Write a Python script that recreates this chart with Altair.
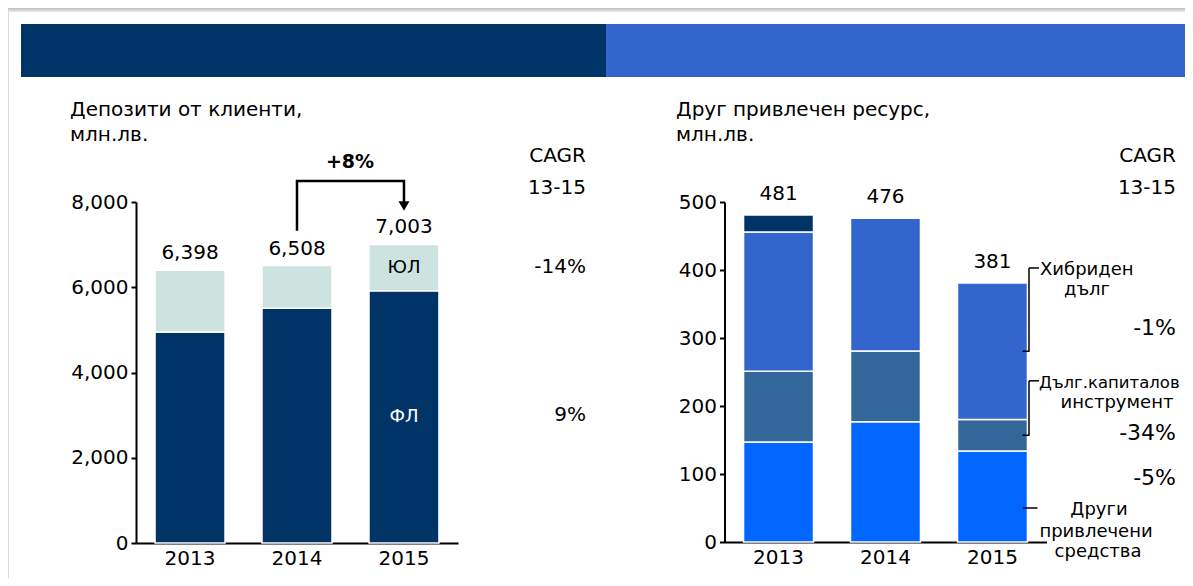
import altair as alt
import pandas as pd

FONT = "DejaVu Sans"
M = 8          # page margin: page pixel -> chart pixel
W, H = 1177, 570

# ---------------- data ----------------
years = ["2013", "2014", "2015"]

# Депозити от клиенти, млн.лв.
dep_fl = [4950, 5510, 5920]        # ФЛ
dep_yl = [1448, 998, 1083]         # ЮЛ
dep_total = [6398, 6508, 7003]
dep_ticks = [0, 2000, 4000, 6000, 8000]
dep_cagr = ["-14%", "9%"]
growth_label = "+8%"

# Друг привлечен ресурс, млн.лв.
res_other = [147, 177, 134]        # Други привлечени средства
res_debtcap = [104, 104, 46]       # Дълг.капиталов инструмент
res_hybrid = [205, 195, 201]       # Хибриден дълг
res_top = [25, 0, 0]               # top (dark) segment
res_total = [481, 476, 381]
res_ticks = [0, 100, 200, 300, 400, 500]
res_cagr = ["-1%", "-34%", "-5%"]

C_NAVY = "#003366"
C_BLUE = "#3366CC"
C_TEAL = "#336699"
C_BRIGHT = "#0066FF"
C_LIGHT = "#CDE3E0"

ONE = alt.Data(values=[{}])


def P(v):
    return v - M


def txt(s, x, y, size=20, align="left", weight="normal", color="black", line_h=None):
    kw = dict(text=s, align=align, baseline="alphabetic", fontSize=size, font=FONT,
              fontWeight=weight, color=color)
    if line_h is not None:
        kw["lineHeight"] = line_h
    return alt.Chart(ONE).mark_text(**kw).encode(x=alt.value(P(x)), y=alt.value(P(y)))


def rect(x1, x2, y1, y2, color):
    return alt.Chart(ONE).mark_rect(color=color).encode(
        x=alt.value(P(x1)), x2=alt.value(P(x2)), y=alt.value(P(y1)), y2=alt.value(P(y2)))


def x_enc(x0, x1, base_y):
    return alt.X("year:N", title=None,
                 scale=alt.Scale(type="band", domain=years, range=[P(x0), P(x1)],
                                 paddingInner=0.346, paddingOuter=0.178),
                 axis=alt.Axis(orient="bottom", offset=-(H - P(base_y)), ticks=False, tickSize=0,
                               labelPadding=5, labelFontSize=20, labelFont=FONT, labelColor="black",
                               domainColor="black", domainWidth=2, labelAngle=0, grid=False))


def y_enc(field, dom, base_y, top_y, axis_x, ticks, fmt, stack=False):
    kw = {}
    if stack:
        kw["stack"] = "zero"
    return alt.Y(f"{field}:Q", title=None,
                 scale=alt.Scale(domain=dom, range=[P(base_y), P(top_y)], nice=False, zero=True),
                 axis=alt.Axis(orient="left", offset=-P(axis_x), values=ticks, format=fmt,
                               tickSize=5, tickWidth=2, tickColor="black", domainColor="black",
                               domainWidth=2, labelPadding=3, labelFontSize=20, labelFont=FONT,
                               labelColor="black", grid=False),
                 **kw)


# ---------------- header ----------------
strip = alt.Chart(ONE).mark_rect(
    color=alt.Gradient(gradient="linear", x1=0, x2=0, y1=0, y2=1,
                       stops=[alt.GradientStop(color="#BDBDBD", offset=0),
                              alt.GradientStop(color="#EBEBEB", offset=1)])
).encode(x=alt.value(0), x2=alt.value(W), y=alt.value(0), y2=alt.value(4))

header = alt.layer(
    strip,
    rect(21, 606, 24, 77, C_NAVY),
    rect(606, 1193, 24, 77, C_BLUE),
    txt(["Депозити от клиенти,", "млн.лв."], 70, 116, line_h=25),
    txt(["Друг привлечен ресурс,", "млн.лв."], 676, 116, line_h=25),
    txt("CAGR", 586, 162, align="right"),
    txt("13-15", 586, 194, align="right"),
    txt(dep_cagr[0], 586, 273, align="right"),
    txt(dep_cagr[1], 586, 421, align="right"),
    txt("CAGR", 1176, 162, align="right"),
    txt("13-15", 1176, 194, align="right"),
    txt(res_cagr[0], 1176, 335, size=22, align="right"),
    txt(res_cagr[1], 1176, 440, size=22, align="right"),
    txt(res_cagr[2], 1176, 485, size=22, align="right"),
    txt("Хибриден", 1040, 275, size=18),
    txt("дълг", 1087, 295, size=18, align="center"),
    txt("Дълг.капиталов", 1039, 388, size=16.5),
    txt("инструмент", 1117, 408, size=18, align="center"),
    txt("Други", 1099, 515, size=18, align="center"),
    txt("привлечени", 1096, 537, size=18, align="center"),
    txt("средства", 1098, 557, size=18, align="center"),
    txt(growth_label, 350, 168, size=19, align="center", weight="bold"),
)

# ---------------- left panel ----------------
LX = (136, 458)
L_BASE, L_TOP = 543, 202
L_DOM = [0, 8000]


def xl():
    return x_enc(LX[0], LX[1], L_BASE)


def yl(field, stack=False):
    return y_enc(field, L_DOM, L_BASE, L_TOP, LX[0], dep_ticks, ",d", stack)


dep_df = pd.DataFrame({
    "year": years * 2,
    "seg": ["ФЛ"] * 3 + ["ЮЛ"] * 3,
    "value": dep_fl + dep_yl,
    "ord": [0] * 3 + [1] * 3,
})
dep_tot_df = pd.DataFrame({"year": years, "total": dep_total})
yl_lbl = pd.DataFrame({"year": [years[2]], "v": [dep_fl[2] + dep_yl[2] / 2], "t": ["ЮЛ"]})
fl_lbl = pd.DataFrame({"year": [years[2]], "v": [dep_fl[2] / 2], "t": ["ФЛ"]})

arrow_df = pd.DataFrame({
    "year": [years[1], years[1], years[2], years[2]],
    "v": [7327, 8493, 8493, 7906],
    "i": [0, 1, 2, 3],
})
arrow_head = pd.DataFrame({"year": [years[2]], "v": [7906]})

left_bars = alt.Chart(dep_df).mark_bar(stroke="white", strokeWidth=1.5).encode(
    x=xl(), y=yl("value", stack=True),
    color=alt.Color("seg:N", scale=alt.Scale(domain=["ФЛ", "ЮЛ"], range=[C_NAVY, C_LIGHT]), legend=None),
    order=alt.Order("ord:Q", sort="ascending"),
)
left_tot = alt.Chart(dep_tot_df).mark_text(fontSize=20, font=FONT, color="black", baseline="middle", dy=-17).encode(
    x=xl(), y=yl("total"), text=alt.Text("total:Q", format=",d"))
left_yl = alt.Chart(yl_lbl).mark_text(fontSize=18, font=FONT, color="black", baseline="middle").encode(
    x=xl(), y=yl("v"), text="t:N")
left_fl = alt.Chart(fl_lbl).mark_text(fontSize=18, font=FONT, color="white", baseline="middle").encode(
    x=xl(), y=yl("v"), text="t:N")
left_arrow = alt.Chart(arrow_df).mark_line(color="black", strokeWidth=2.5, strokeJoin="miter").encode(
    x=xl(), y=yl("v"), order="i:Q")
left_head = alt.Chart(arrow_head).mark_point(shape="triangle-down", filled=True, size=121,
                                             color="black", opacity=1).encode(x=xl(), y=yl("v"))

left = alt.layer(left_bars, left_tot, left_yl, left_fl, left_arrow, left_head)

# ---------------- right panel ----------------
RX = (724.5, 1046.5)
R_BASE, R_TOP = 542, 202
R_DOM = [0, 500]


def xr():
    return x_enc(RX[0], RX[1], R_BASE)


def yr(field, stack=False):
    return y_enc(field, R_DOM, R_BASE, R_TOP, RX[0], res_ticks, "d", stack)


segs = ["Други", "Дълг", "Хибрид", "Горен"]
res_df = pd.DataFrame({
    "year": years * 4,
    "seg": [s for s in segs for _ in years],
    "value": res_other + res_debtcap + res_hybrid + res_top,
    "ord": [k for k in range(4) for _ in years],
})
res_df = res_df[res_df["value"] > 0]
res_tot_df = pd.DataFrame({"year": years, "total": res_total})

hyb_mid = res_other[2] + res_debtcap[2] + res_hybrid[2] / 2
debt_mid = res_other[2] + res_debtcap[2] / 2
brackets = pd.DataFrame({"top": [403, 237], "bot": [hyb_mid, debt_mid]})
other_tick = pd.DataFrame({"v": [50]})

right_bars = alt.Chart(res_df).mark_bar(stroke="white", strokeWidth=1.5).encode(
    x=xr(), y=yr("value", stack=True),
    color=alt.Color("seg:N", scale=alt.Scale(domain=segs, range=[C_BRIGHT, C_TEAL, C_BLUE, C_NAVY]), legend=None),
    order=alt.Order("ord:Q", sort="ascending"),
)
right_tot = alt.Chart(res_tot_df).mark_text(fontSize=20, font=FONT, color="black", baseline="middle", dy=-21).encode(
    x=xr(), y=yr("total"), text=alt.Text("total:Q", format="d"))
br_v = alt.Chart(brackets).mark_rule(color="black", strokeWidth=1.5).encode(
    x=alt.value(P(1029)), y=yr("top"), y2="bot:Q")
br_t = alt.Chart(brackets).mark_rule(color="black", strokeWidth=1.5).encode(
    x=alt.value(P(1029)), x2=alt.value(P(1039)), y=yr("top"))
br_b = alt.Chart(brackets).mark_rule(color="black", strokeWidth=1.5).encode(
    x=alt.value(P(1022.5)), x2=alt.value(P(1029.5)), y=yr("bot"))
oth_t = alt.Chart(other_tick).mark_rule(color="black", strokeWidth=1.5).encode(
    x=alt.value(P(1022.5)), x2=alt.value(P(1037.5)), y=yr("v"))

right = alt.layer(right_bars, right_tot, br_v, br_t, br_b, oth_t)

chart = alt.layer(header, left, right).resolve_scale(
    x="independent", y="independent", color="independent"
).properties(
    width=W, height=H, autosize=alt.AutoSizeParams(type="none"), padding=0, background="white"
).configure_view(stroke=None).configure(font=FONT)

chart.save("out.html", embed_options={"renderer": "svg", "actions": False})
